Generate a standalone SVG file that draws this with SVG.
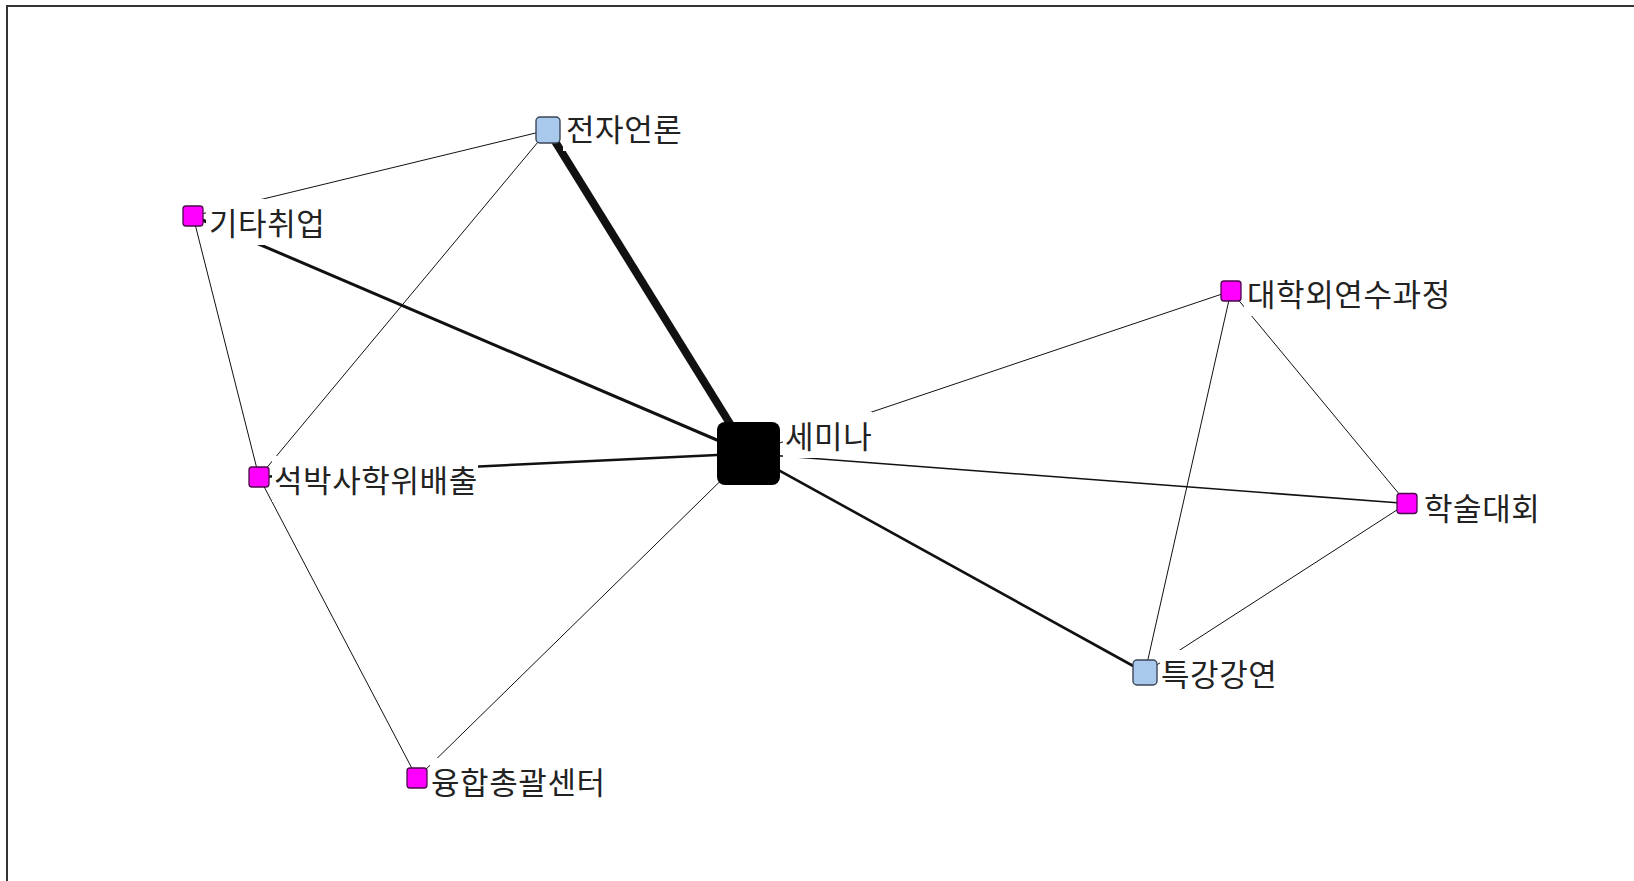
<svg xmlns="http://www.w3.org/2000/svg" width="1634" height="881" viewBox="0 0 1634 881">
<style>
.e{stroke:#111;fill:none;stroke-linecap:butt}
.t1{stroke-width:1}
.t2{stroke-width:1.6}
.t3{stroke-width:2.6}
.t4{stroke-width:3}
.t7{stroke-width:8}
.m{fill:#ff00ff;stroke:#4a0a4a;stroke-width:1.3}
.b{fill:#a8c8ec;stroke:#3a4656;stroke-width:1.4}
.k{fill:#000}
.bg{fill:#fff}
.l{font-family:"Noto Sans CJK KR","Noto Sans",sans-serif;font-size:31px;letter-spacing:0.6px;fill:#222}
</style>
<rect x="0" y="0" width="1634" height="881" fill="#fff"/>
<path d="M7 881 V6 H1634" fill="none" stroke="#333" stroke-width="2"/>
<g id="edges">
<line class="e t1" x1="548" y1="130" x2="193" y2="216"/>
<line class="e t1" x1="548" y1="130" x2="259" y2="477"/>
<line class="e t7" x1="548" y1="130" x2="748.5" y2="453.5"/>
<line class="e t4" x1="193" y1="216" x2="748.5" y2="453.5"/>
<line class="e t1" x1="193" y1="216" x2="259" y2="477"/>
<line class="e t3" x1="259" y1="477" x2="748.5" y2="453.5"/>
<line class="e t1" x1="259" y1="477" x2="417" y2="778"/>
<line class="e t1" x1="417" y1="778" x2="748.5" y2="453.5"/>
<line class="e t1" x1="748.5" y1="453.5" x2="1231" y2="291"/>
<line class="e t2" x1="748.5" y1="453.5" x2="1407" y2="503.5"/>
<line class="e t3" x1="748.5" y1="453.5" x2="1145" y2="672.5"/>
<line class="e t1" x1="1231" y1="291" x2="1145" y2="672.5"/>
<line class="e t1" x1="1231" y1="291" x2="1407" y2="503.5"/>
<line class="e t1" x1="1407" y1="503.5" x2="1145" y2="672.5"/>
</g>
<g id="n-jeonja">
<rect class="bg" x="563" y="105" width="124" height="46"/>
<rect class="b" x="536" y="117" width="24" height="26" rx="4"/>
<text class="l" x="566" y="141">전자언론</text>
</g>
<g id="n-gita">
<rect class="bg" x="206" y="199" width="128" height="46"/>
<rect class="m" x="183" y="206" width="20" height="20" rx="3"/>
<text class="l" x="209" y="235">기타취업</text>
</g>
<g id="n-seokbak">
<rect class="bg" x="272" y="456" width="206" height="46"/>
<rect class="m" x="249" y="467" width="20" height="20" rx="3"/>
<text class="l" x="274" y="492">석박사학위배출</text>
</g>
<g id="n-yunghap">
<rect class="bg" x="430" y="758" width="184" height="46"/>
<rect class="m" x="407" y="768" width="20" height="20" rx="3"/>
<text class="l" x="431" y="794">융합총괄센터</text>
</g>
<g id="n-seminar">
<rect class="bg" x="783" y="412" width="89" height="46"/>
<rect class="k" x="717" y="422" width="63" height="63" rx="8"/>
<text class="l" x="785" y="448">세미나</text>
</g>
<g id="n-daehak">
<rect class="bg" x="1244" y="270" width="212" height="46"/>
<rect class="m" x="1221" y="281" width="20" height="20" rx="3"/>
<text class="l" x="1247" y="306">대학외연수과정</text>
</g>
<g id="n-haksul">
<rect class="bg" x="1420" y="484" width="126" height="46"/>
<rect class="m" x="1397" y="493.5" width="20" height="20" rx="3"/>
<text class="l" x="1424" y="520">학술대회</text>
</g>
<g id="n-teukgang">
<rect class="bg" x="1160" y="650" width="126" height="46"/>
<rect class="b" x="1133" y="660" width="24" height="25" rx="4"/>
<text class="l" x="1161" y="686">특강강연</text>
</g>
</svg>
